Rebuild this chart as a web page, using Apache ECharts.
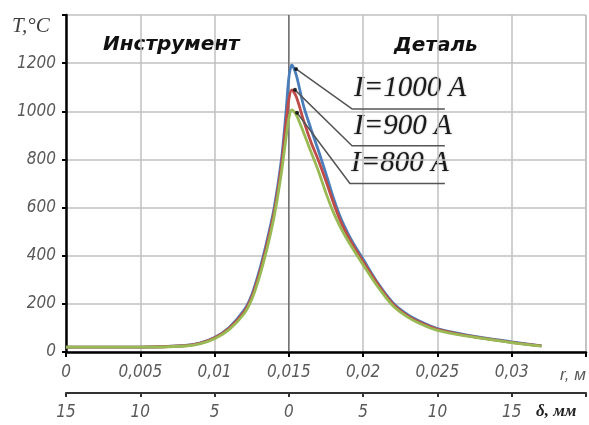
<!DOCTYPE html>
<html><head><meta charset="utf-8">
<script src="https://cdn.jsdelivr.net/npm/echarts@6/dist/echarts.min.js"></script>
<style>html,body{margin:0;padding:0;background:#fff}#c{width:589px;height:425px}</style>
</head><body><div id="c"></div>
<script>
// r, m
const rValues = [0, 0.005, 0.008, 0.009, 0.01, 0.011, 0.012, 0.0125, 0.013, 0.0135, 0.014, 0.0145, 0.0148, 0.015, 0.0152, 0.0155, 0.016, 0.0165, 0.017, 0.0175, 0.018, 0.0185, 0.019, 0.0195, 0.02, 0.021, 0.022, 0.023, 0.024, 0.025, 0.027, 0.03, 0.032];
const tI1000 = [20, 20, 27, 37, 60, 103, 175, 237, 335, 455, 595, 800, 990, 1140, 1193, 1150, 1020, 925, 835, 740, 640, 555, 490, 435, 385, 285, 205, 155, 122, 97, 70, 42, 25];
const tI900  = [20, 20, 26, 36, 58, 99, 168, 228, 322, 440, 578, 775, 945, 1050, 1089, 1060, 960, 870, 795, 710, 620, 540, 478, 425, 375, 280, 200, 150, 118, 94, 68, 40, 25];
const tI800  = [20, 20, 25, 34, 55, 94, 160, 218, 308, 422, 560, 745, 885, 970, 1006, 985, 910, 830, 750, 660, 580, 515, 460, 410, 362, 270, 192, 145, 113, 90, 66, 39, 24];
const seriesNames = ['I=1000 A', 'I=900 A', 'I=800 A'];
const boundaryR = 0.015;
// leader lines: [start r, start T, elbow r, elbow T, end r]
const leaders = [
  [0.01548, 1176, 0.01925, 1010, 0.0255],
  [0.01541, 1089, 0.01925, 857, 0.0255],
  [0.01555, 994, 0.01911, 700, 0.0255]
];
const colors = ['#4a7ebb', '#be4b48', '#98b954'];

const pair = (ys) => rValues.map((r, i) => [r, ys[i]]);
const chart = echarts.init(document.getElementById('c'));
const labFont = {fontFamily: '"Liberation Sans Narrow","DejaVu Sans Condensed",sans-serif', fontStyle: 'italic', fontSize: 17, color: '#595959'};
const fmtR = v => (v >= 0.0349 ? '' : String(+v.toFixed(3)).replace('.', ','));
const fmtD = v => (v >= 0.0349 ? '' : String(Math.round(Math.abs(v - boundaryR) * 1000)));

const series = [];
series.push({type: 'line', data: [[boundaryR, 0], [boundaryR, 1400]], showSymbol: false, symbol: 'none',
  lineStyle: {color: '#444', width: 1}, z: 2, silent: true});
[tI1000, tI900, tI800].forEach((ys, i) => {
  series.push({name: seriesNames[i], type: 'line', data: pair(ys), smooth: 0.3, showSymbol: false,
    lineStyle: {color: colors[i], width: 2.8}, z: 3 + i});
});
leaders.forEach(l => {
  series.push({type: 'line', data: [[l[0], l[1]], [l[2], l[3]], [l[4], l[3]]], showSymbol: false, symbol: 'none',
    lineStyle: {color: '#555', width: 1.5}, z: 8, silent: true});
});
series.push({type: 'scatter', data: leaders.map(l => [l[0], l[1]]), symbolSize: 4, itemStyle: {color: '#000'}, z: 9});

const txtShadow = {fill: '#1a1a1a', textShadowColor: 'rgba(0,0,0,0.35)', textShadowBlur: 2};
chart.setOption({
  animation: false,
  grid: {left: 66, right: 3, top: 15, bottom: 73, containLabel: false},
  xAxis: [{
    type: 'value', min: 0, max: 0.035, interval: 0.005, position: 'bottom',
    axisLine: {lineStyle: {color: '#000', width: 2.5}},
    axisTick: {show: true, length: 5, lineStyle: {color: '#000', width: 2}},
    splitLine: {show: true, lineStyle: {color: '#c0c0c0', width: 1.5}},
    axisLabel: Object.assign({formatter: fmtR, margin: 12, showMaxLabel: true}, labFont)
  }, {
    type: 'value', min: 0, max: 0.035, interval: 0.005, position: 'bottom', offset: 41,
    axisLine: {show: true, onZero: false, lineStyle: {color: '#333', width: 2}},
    axisTick: {show: true, length: 4, inside: false, lineStyle: {color: '#333', width: 2}},
    splitLine: {show: false},
    axisLabel: Object.assign({formatter: fmtD, margin: 11}, labFont)
  }],
  yAxis: {
    type: 'value', min: 0, max: 1400, interval: 200,
    axisLine: {show: true, lineStyle: {color: '#000', width: 2.5}},
    axisTick: {show: true, length: 4, lineStyle: {color: '#000', width: 2}},
    splitLine: {show: true, lineStyle: {color: '#c0c0c0', width: 1.5}},
    axisLabel: Object.assign({formatter: v => (v >= 1400 ? '' : String(v)), margin: 10}, labFont)
  },
  series: series,
  graphic: [
    {type: 'rect', shape: {x: 586, y: 15, width: 0, height: 337}, style: {stroke: '#c0c0c0', lineWidth: 1.5}, silent: true},
    {type: 'text', left: 12, top: 16, style: {text: 'T,°C', font: 'italic 21px "Liberation Serif",serif', fill: '#404040'}},
    {type: 'text', left: 103, top: 35, style: {text: 'Инструмент', font: 'italic bold 20px "DejaVu Sans",sans-serif', fill: '#111'}},
    {type: 'text', left: 394, top: 36, style: {text: 'Деталь', font: 'italic bold 20px "DejaVu Sans",sans-serif', fill: '#111'}},
    {type: 'text', left: 354, top: 74, style: Object.assign({text: 'I=1000 A', font: 'italic 29px "Liberation Serif",serif'}, txtShadow)},
    {type: 'text', left: 354, top: 112, style: Object.assign({text: 'I=900 A', font: 'italic 29px "Liberation Serif",serif'}, txtShadow)},
    {type: 'text', left: 351, top: 149, style: Object.assign({text: 'I=800 A', font: 'italic 29px "Liberation Serif",serif'}, txtShadow)},
    {type: 'text', left: 560, top: 367, style: {text: 'r, м', font: 'italic 17px "Liberation Sans Narrow",sans-serif', fill: '#595959'}},
    {type: 'text', left: 536, top: 403, style: {text: 'δ, мм', font: 'italic bold 17px "Liberation Serif",serif', fill: '#222'}}
  ]
});
</script></body></html>
